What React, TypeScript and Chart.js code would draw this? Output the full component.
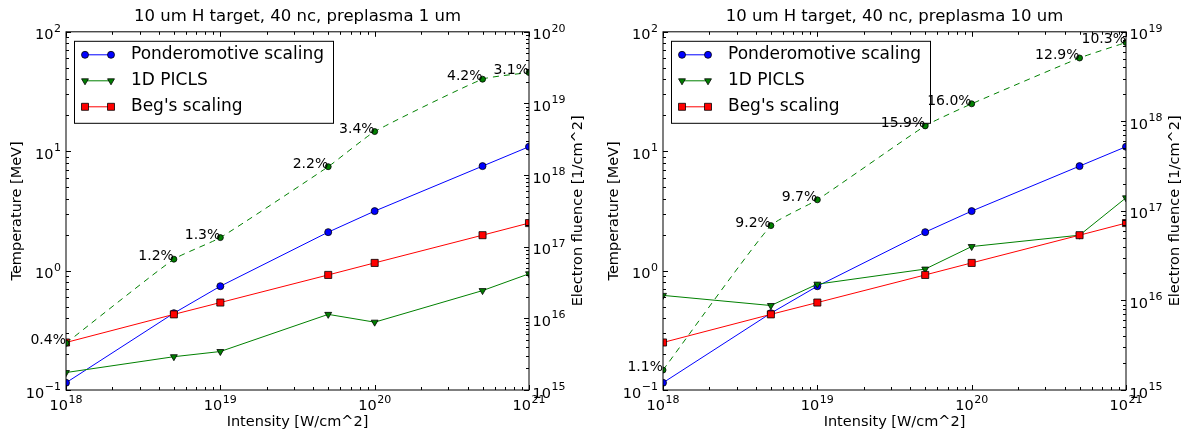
import React, { useEffect, useRef } from 'react';
import { Chart, registerables } from 'chart.js';

Chart.register(...registerables);

const FONT = "'DejaVu Sans', 'Noto Sans', sans-serif";

// ---------- data ----------
const intensity = [1e18, 5e18, 1e19, 5e19, 1e20, 5e20, 1e21];
const ponderomotive = [0.115, 0.44, 0.74, 2.1, 3.15, 7.5, 10.9];
const begScaling = [0.25, 0.43, 0.54, 0.92, 1.16, 1.98, 2.5];

const picls1Temp = [0.14, 0.19, 0.21, 0.43, 0.37, 0.68, 0.94];
const picls1Fluence = [4.5e15, 6.7e16, 1.34e17, 1.31e18, 4.05e18, 2.18e19, 2.7e19];
const picls1Pct = ['0.4%', '1.2%', '1.3%', '2.2%', '3.4%', '4.2%', '3.1%'];

const picls10Temp = [0.62, 0.51, 0.77, 1.03, 1.59, 1.98, 4.07];
const picls10Fluence = [1.67e15, 6.85e16, 1.33e17, 8.9e17, 1.57e18, 5.1e18, 7.6e18];
const picls10Pct = ['1.1%', '9.2%', '9.7%', '15.9%', '16.0%', '12.9%', '10.3%'];

const xTickValues = [1e18, 1e19, 1e20, 1e21];
const tempTickValues = [0.1, 1, 10, 100];
const fluenceTicks1 = [1e15, 1e16, 1e17, 1e18, 1e19, 1e20];
const fluenceTicks10 = [1e15, 1e16, 1e17, 1e18, 1e19];

const titles = ['10 um H target, 40 nc, preplasma 1 um', '10 um H target, 40 nc, preplasma 10 um'];
const legendLabels = ['Ponderomotive scaling', '1D PICLS', "Beg's scaling"];
const xTitle = 'Intensity [W/cm^2]';
const yTitle = 'Temperature [MeV]';
const y1Title = 'Electron fluence [1/cm^2]';

// ---------- helpers ----------
const expOf = (v: number) => {
  const e = Math.round(Math.log10(v));
  return e < 0 ? '\u2212' + String(-e) : String(e);
};

function minorTicks(min: number, max: number): number[] {
  const out: number[] = [];
  const e0 = Math.round(Math.log10(min));
  const e1 = Math.round(Math.log10(max));
  for (let e = e0; e < e1; e++) {
    for (let k = 2; k <= 9; k++) out.push(k * Math.pow(10, e));
  }
  return out;
}

const BASE_FONT = `14.5px ${FONT}`;
const EXP_FONT = `11px ${FONT}`;

// draws "10" with a raised exponent; y is the baseline of "10"
function drawPow(ctx: CanvasRenderingContext2D, v: number, x: number, y: number, align: 'left' | 'right' | 'center') {
  const exp = expOf(v);
  ctx.font = BASE_FONT;
  const wb = ctx.measureText('10').width;
  ctx.font = EXP_FONT;
  const we = ctx.measureText(exp).width;
  const total = wb + 0.5 + we;
  let x0 = x;
  if (align === 'right') x0 = x - total;
  else if (align === 'center') x0 = x - total / 2;
  ctx.textAlign = 'left';
  ctx.textBaseline = 'alphabetic';
  ctx.fillStyle = '#000';
  ctx.font = BASE_FONT;
  ctx.fillText('10', x0, y);
  ctx.font = EXP_FONT;
  ctx.fillText(exp, x0 + wb + 0.5, y - 7.5);
}

const BLUE = '#0000ff';
const GREEN = '#008000';
const RED = '#ff0000';

function drawMarker(ctx: CanvasRenderingContext2D, kind: string, x: number, y: number, color: string) {
  ctx.beginPath();
  if (kind === 'circle') {
    ctx.arc(x, y, 3.5, 0, Math.PI * 2);
  } else if (kind === 'tri') {
    const r = 4;
    ctx.moveTo(x, y + r);
    ctx.lineTo(x + r * 0.866, y - r * 0.5);
    ctx.lineTo(x - r * 0.866, y - r * 0.5);
    ctx.closePath();
  } else {
    ctx.rect(x - 3.5, y - 3.5, 7, 7);
  }
  ctx.fillStyle = color;
  ctx.fill();
  ctx.strokeStyle = '#000';
  ctx.lineWidth = 0.8;
  ctx.stroke();
}

interface PanelSpec {
  title: string;
  temp: number[];
  fluence: number[];
  pct: string[];
  fluenceTicks: number[];
  leftW: number;
  rightW: number;
  yTitlePad: number;
}

function decorPlugin(spec: PanelSpec) {
  return {
    id: 'decor',
    afterDraw(chart: any) {
      const { ctx, chartArea: ca, scales } = chart;
      const xs = scales.x, ys = scales.y, y1s = scales.y1;
      ctx.save();
      // frame
      ctx.strokeStyle = '#000';
      ctx.lineWidth = 1;
      ctx.strokeRect(ca.left, ca.top, ca.right - ca.left, ca.bottom - ca.top);

      // inward ticks
      ctx.beginPath();
      xTickValues.forEach((v) => {
        const p = Math.round(xs.getPixelForValue(v)) + 0.5;
        ctx.moveTo(p, ca.bottom); ctx.lineTo(p, ca.bottom - 5);
        ctx.moveTo(p, ca.top); ctx.lineTo(p, ca.top + 5);
      });
      minorTicks(1e18, 1e21).forEach((v) => {
        const p = Math.round(xs.getPixelForValue(v)) + 0.5;
        ctx.moveTo(p, ca.bottom); ctx.lineTo(p, ca.bottom - 3);
        ctx.moveTo(p, ca.top); ctx.lineTo(p, ca.top + 3);
      });
      tempTickValues.forEach((v) => {
        const p = Math.round(ys.getPixelForValue(v)) + 0.5;
        ctx.moveTo(ca.left, p); ctx.lineTo(ca.left + 5, p);
      });
      minorTicks(0.1, 100).forEach((v) => {
        const p = Math.round(ys.getPixelForValue(v)) + 0.5;
        ctx.moveTo(ca.left, p); ctx.lineTo(ca.left + 3, p);
      });
      const fMin = spec.fluenceTicks[0];
      const fMax = spec.fluenceTicks[spec.fluenceTicks.length - 1];
      spec.fluenceTicks.forEach((v) => {
        const p = Math.round(y1s.getPixelForValue(v)) + 0.5;
        ctx.moveTo(ca.right, p); ctx.lineTo(ca.right - 5, p);
      });
      minorTicks(fMin, fMax).forEach((v) => {
        const p = Math.round(y1s.getPixelForValue(v)) + 0.5;
        ctx.moveTo(ca.right, p); ctx.lineTo(ca.right - 3, p);
      });
      ctx.strokeStyle = '#000';
      ctx.lineWidth = 1;
      ctx.stroke();

      // tick labels with raised exponents
      xTickValues.forEach((v) => {
        drawPow(ctx, v, xs.getPixelForValue(v), ca.bottom + 20, 'center');
      });
      tempTickValues.forEach((v) => {
        drawPow(ctx, v, ca.left - 5, ys.getPixelForValue(v) + 7.5, 'right');
      });
      spec.fluenceTicks.forEach((v) => {
        drawPow(ctx, v, ca.right + 3.5, y1s.getPixelForValue(v) + 7.5, 'left');
      });

      // legend
      const bx = ca.left + 8.5, by = ca.top + 9.5, bw = 259, bh = 82;
      ctx.fillStyle = '#fff';
      ctx.fillRect(bx, by, bw, bh);
      ctx.strokeStyle = '#000';
      ctx.lineWidth = 1;
      ctx.strokeRect(bx, by, bw, bh);
      const rows = [
        { color: BLUE, kind: 'circle' },
        { color: GREEN, kind: 'tri' },
        { color: RED, kind: 'square' },
      ];
      rows.forEach((r, i) => {
        const cy = ca.top + 23 + i * 26;
        const x1 = ca.left + 19, x2 = ca.left + 45;
        ctx.beginPath();
        ctx.moveTo(x1, cy); ctx.lineTo(x2, cy);
        ctx.strokeStyle = r.color; ctx.lineWidth = 1;
        ctx.stroke();
        drawMarker(ctx, r.kind, x1, cy, r.color);
        drawMarker(ctx, r.kind, x2, cy, r.color);
        ctx.fillStyle = '#000';
        ctx.font = `17px ${FONT}`;
        ctx.textAlign = 'left';
        ctx.textBaseline = 'middle';
        ctx.fillText(legendLabels[i], ca.left + 65, cy);
      });

      // percent annotations
      ctx.font = `14px ${FONT}`;
      ctx.fillStyle = '#000';
      ctx.textAlign = 'right';
      ctx.textBaseline = 'alphabetic';
      spec.pct.forEach((t, i) => {
        const px = xs.getPixelForValue(intensity[i]);
        const py = y1s.getPixelForValue(spec.fluence[i]);
        ctx.fillText(t, px, py + 1);
      });

      // right axis title (reads bottom-to-top)
      ctx.save();
      ctx.translate(ca.right + 49.5, (ca.top + ca.bottom) / 2);
      ctx.rotate(-Math.PI / 2);
      ctx.font = `14.5px ${FONT}`;
      ctx.textAlign = 'center';
      ctx.textBaseline = 'middle';
      ctx.fillStyle = '#000';
      ctx.fillText(y1Title, 0, 0);
      ctx.restore();

      ctx.restore();
    },
  };
}

function buildConfig(spec: PanelSpec): any {
  const pts = (ys: number[]) => intensity.map((x, i) => ({ x, y: ys[i] }));
  return {
    type: 'line',
    data: {
      datasets: [
        {
          label: legendLabels[0], data: pts(ponderomotive), yAxisID: 'y', order: 4,
          borderColor: BLUE, backgroundColor: BLUE, borderWidth: 1,
          pointStyle: 'circle', pointRadius: 3.5, pointBorderColor: '#000', pointBorderWidth: 0.8,
          pointBackgroundColor: BLUE, clip: 0,
        },
        {
          label: legendLabels[1], data: pts(spec.temp), yAxisID: 'y', order: 3,
          borderColor: GREEN, backgroundColor: GREEN, borderWidth: 1,
          pointStyle: 'triangle', rotation: 180, pointRadius: 4, pointBorderColor: '#000', pointBorderWidth: 0.8,
          pointBackgroundColor: GREEN, clip: 0,
        },
        {
          label: legendLabels[2], data: pts(begScaling), yAxisID: 'y', order: 2,
          borderColor: RED, backgroundColor: RED, borderWidth: 1,
          pointStyle: 'rect', pointRadius: 5, pointBorderColor: '#000', pointBorderWidth: 0.8,
          pointBackgroundColor: RED, clip: 0,
        },
        {
          label: 'fluence', data: pts(spec.fluence), yAxisID: 'y1', order: 1,
          borderColor: GREEN, backgroundColor: GREEN, borderWidth: 1, borderDash: [6, 5],
          tension: 0.15,
          pointStyle: 'circle', pointRadius: 3, pointBorderColor: '#000', pointBorderWidth: 0.8,
          pointBackgroundColor: GREEN, clip: 0,
        },
      ],
    },
    options: {
      animation: false,
      responsive: false,
      events: [],
      layout: { padding: 0 },
      scales: {
        x: {
          type: 'logarithmic', position: 'bottom', min: 1e18, max: 1e21,
          grid: { display: false, drawTicks: false }, border: { display: false },
          afterBuildTicks: (s: any) => { s.ticks = xTickValues.map((v) => ({ value: v })); },
          afterFit: (s: any) => { s.height = 42; },
          ticks: { display: false },
          title: { display: true, text: xTitle, color: '#000', font: { family: FONT, size: 14.5 }, padding: { top: 0, bottom: 1 } },
        },
        y: {
          type: 'logarithmic', position: 'left', min: 0.1, max: 100,
          grid: { display: false, drawTicks: false }, border: { display: false },
          afterBuildTicks: (s: any) => { s.ticks = tempTickValues.map((v) => ({ value: v })); },
          afterFit: (s: any) => { s.width = spec.leftW; },
          ticks: { display: false },
          title: { display: true, text: yTitle, color: '#000', font: { family: FONT, size: 14.5 }, padding: { top: spec.yTitlePad, bottom: 0 } },
        },
        y1: {
          type: 'logarithmic', position: 'right',
          min: spec.fluenceTicks[0], max: spec.fluenceTicks[spec.fluenceTicks.length - 1],
          grid: { display: false, drawTicks: false }, border: { display: false },
          afterBuildTicks: (s: any) => { s.ticks = spec.fluenceTicks.map((v) => ({ value: v })); },
          afterFit: (s: any) => { s.width = spec.rightW; },
          ticks: { display: false },
        },
      },
      plugins: {
        legend: { display: false },
        tooltip: { enabled: false },
        title: {
          display: true, text: spec.title, fullSize: false, color: '#000',
          font: { family: FONT, size: 16.5, weight: 'normal' }, padding: { top: 7, bottom: 5 },
        },
      },
    },
    plugins: [decorPlugin(spec)],
  };
}

const panels: PanelSpec[] = [
  { title: titles[0], temp: picls1Temp, fluence: picls1Fluence, pct: picls1Pct, fluenceTicks: fluenceTicks1, leftW: 66, rightW: 64, yTitlePad: 9 },
  { title: titles[1], temp: picls10Temp, fluence: picls10Fluence, pct: picls10Pct, fluenceTicks: fluenceTicks10, leftW: 70, rightW: 60, yTitlePad: 13 },
];

function Panel({ spec, left }: { spec: PanelSpec; left: number }) {
  const ref = useRef<HTMLCanvasElement>(null);
  useEffect(() => {
    if (!ref.current) return;
    const chart = new Chart(ref.current, buildConfig(spec));
    return () => chart.destroy();
  }, [spec]);
  return (
    <canvas
      ref={ref}
      width={593}
      height={432}
      style={{ position: 'absolute', left, top: 0, width: 593, height: 432, display: 'block' }}
    />
  );
}

export default function App() {
  return (
    <div style={{ position: 'absolute', left: 0, top: 0, width: 1186, height: 432, background: '#fff', overflow: 'hidden' }}>
      <Panel spec={panels[0]} left={0} />
      <Panel spec={panels[1]} left={593} />
    </div>
  );
}
